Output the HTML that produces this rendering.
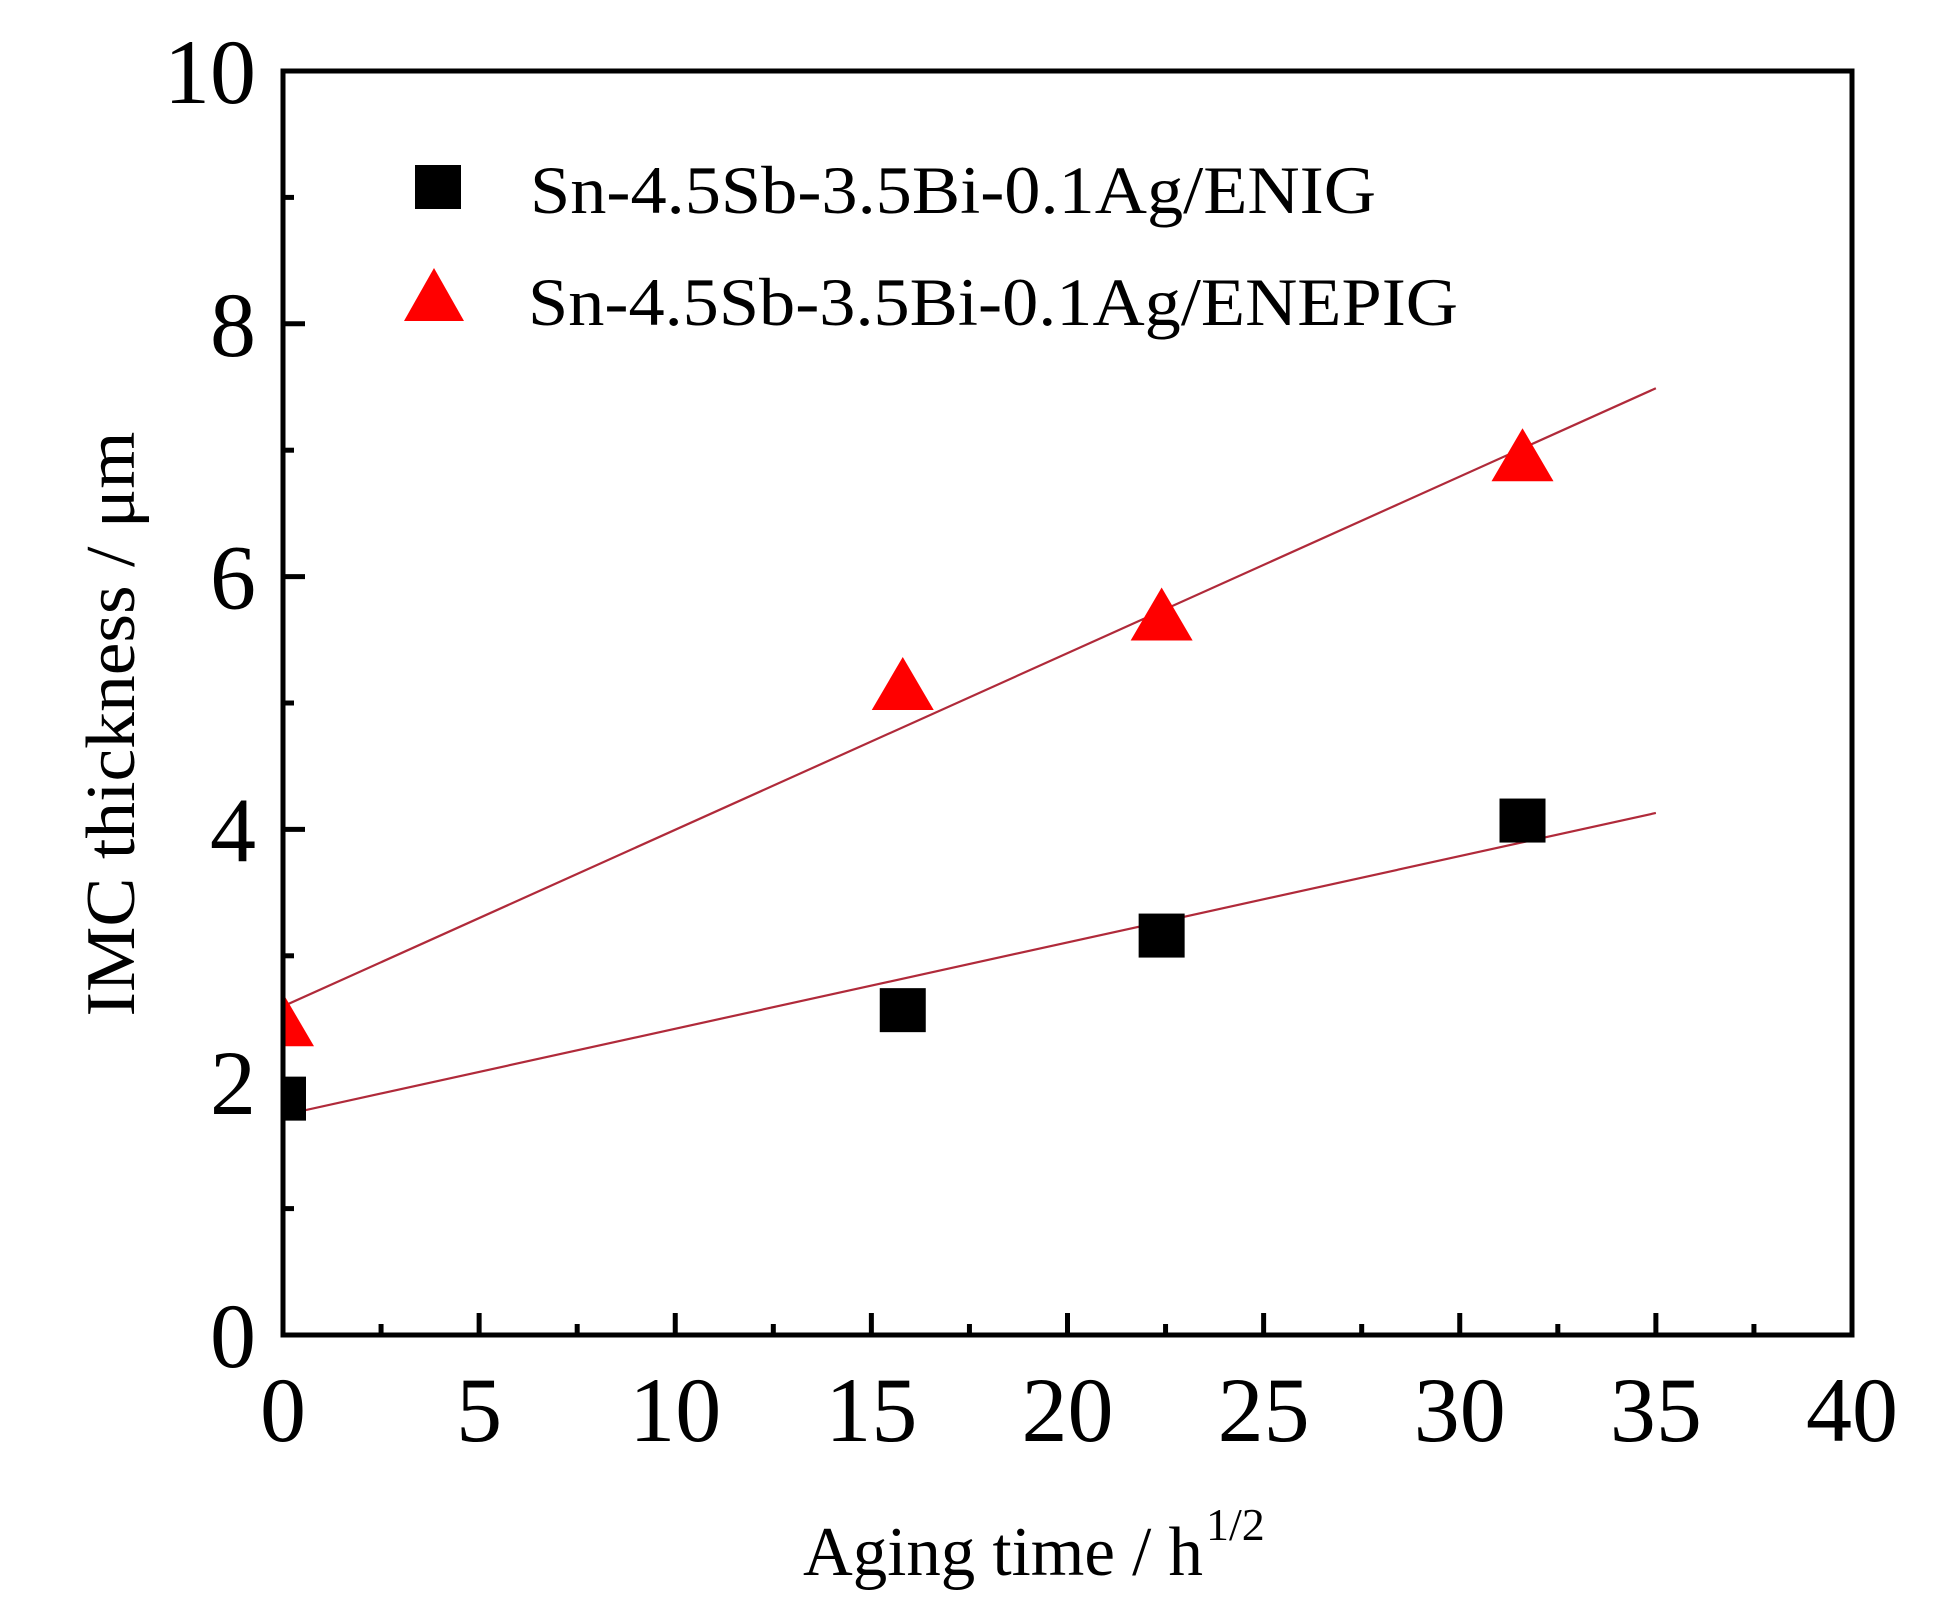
<!DOCTYPE html>
<html><head><meta charset="utf-8"><style>
html,body{margin:0;padding:0;background:#fff;}
svg{display:block;font-family:"Liberation Serif","DejaVu Serif",serif;}
</style></head><body>
<svg id="chart" width="1947" height="1619" viewBox="0 0 1947 1619" xmlns="http://www.w3.org/2000/svg">
<defs><clipPath id="plotClip"><rect x="283" y="71" width="1569" height="1264"/></clipPath></defs>
<rect width="1947" height="1619" fill="#fff"/>
<g id="fits" clip-path="url(#plotClip)"></g>
<g id="marks" clip-path="url(#plotClip)"></g>
<g id="axes"></g>
<g id="legend">
  <rect x="415" y="165" width="46" height="44" fill="#000"/>
  <text x="530" y="213" font-size="68" textLength="846" lengthAdjust="spacingAndGlyphs">Sn-4.5Sb-3.5Bi-0.1Ag/ENIG</text>
  <polygon points="434,268 464,321 404,321" fill="#ff0000"/>
  <text x="528" y="325" font-size="68" textLength="930" lengthAdjust="spacingAndGlyphs">Sn-4.5Sb-3.5Bi-0.1Ag/ENEPIG</text>
</g>
<text x="803" y="1575" font-size="70" textLength="400" lengthAdjust="spacingAndGlyphs">Aging time / h</text>
<text x="1206" y="1540" font-size="46">1/2</text>
<text transform="translate(134,724) rotate(-90)" text-anchor="middle" font-size="70" textLength="585" lengthAdjust="spacingAndGlyphs">IMC thickness /  μm</text>
</svg>
<script>
const categoriesX = [0, 15.8, 22.4, 31.6];
const enigValues = [1.87, 2.57, 3.16, 4.07];
const enepigValues = [2.49, 5.15, 5.70, 6.96];
const enigFit = [1.74, 4.13];
const enepigFit = [2.60, 7.49];
const fitRange = [0, 35];
const xTicks = [0, 5, 10, 15, 20, 25, 30, 35, 40];
const yTicks = [0, 2, 4, 6, 8, 10];

const NS = "http://www.w3.org/2000/svg";
const L = 283, R = 1852, T = 71, B = 1335;
function xs(v){ return L + (v - 0) / 40 * (R - L); }
function ys(v){ return B - (v - 0) / 10 * (B - T); }
function mk(tag, attrs, parent){
  const e = document.createElementNS(NS, tag);
  for (const k in attrs) e.setAttribute(k, attrs[k]);
  parent.appendChild(e);
  return e;
}
const fits = document.getElementById('fits');
const marks = document.getElementById('marks');
const axes = document.getElementById('axes');

let f1 = mk('line', {x1: xs(fitRange[0]), y1: ys(enigFit[0]), x2: xs(fitRange[1]), y2: ys(enigFit[1]), stroke: '#b02a3a', 'stroke-width': 2.2}, fits);


let f2 = mk('line', {x1: xs(fitRange[0]), y1: ys(enepigFit[0]), x2: xs(fitRange[1]), y2: ys(enepigFit[1]), stroke: '#b02a3a', 'stroke-width': 2.2}, fits);



categoriesX.forEach((x, i) => {
  const cx = xs(x), cy = ys(enigValues[i]);
  const s = mk('rect', {x: cx - 23, y: cy - 22, width: 46, height: 44, fill: '#000'}, marks);
  
  
});
categoriesX.forEach((x, i) => {
  const cx = xs(x), cy = ys(enepigValues[i]);
  const t = mk('polygon', {points: `${cx},${cy-27} ${cx+31},${cy+26} ${cx-31},${cy+26}`, fill: '#ff0000'}, marks);
  
  
});

const frame = mk('rect', {x: L, y: T, width: R - L, height: B - T, fill: 'none', stroke: '#000', 'stroke-width': 5}, axes);



xTicks.forEach((v, i) => {
  const x = xs(v);
  if (i > 0 && i < xTicks.length - 1) {
    const t = mk('line', {x1: x, y1: B, x2: x, y2: B - 22, stroke: '#000', 'stroke-width': 5}, axes);
    
    
  }
  if (i < xTicks.length - 1) {
    const m = xs(v + 2.5);
    const t2 = mk('line', {x1: m, y1: B, x2: m, y2: B - 11, stroke: '#000', 'stroke-width': 5}, axes);
    
    
  }
  const lb = mk('text', {x: x, y: 1441, 'text-anchor': 'middle', 'font-size': 92}, axes);
  lb.textContent = v;
  
  
});
yTicks.forEach((v, i) => {
  const y = ys(v);
  if (i > 0 && i < yTicks.length - 1) {
    const t = mk('line', {x1: L, y1: y, x2: L + 22, y2: y, stroke: '#000', 'stroke-width': 5}, axes);
    
    
  }
  if (i < yTicks.length - 1) {
    const m = ys(v + 1);
    const t2 = mk('line', {x1: L, y1: m, x2: L + 11, y2: m, stroke: '#000', 'stroke-width': 5}, axes);
    
    
  }
  const lb = mk('text', {x: 256, y: y + 32, 'text-anchor': 'end', 'font-size': 92}, axes);
  lb.textContent = v;
  
  
});
</script>
</body></html>
